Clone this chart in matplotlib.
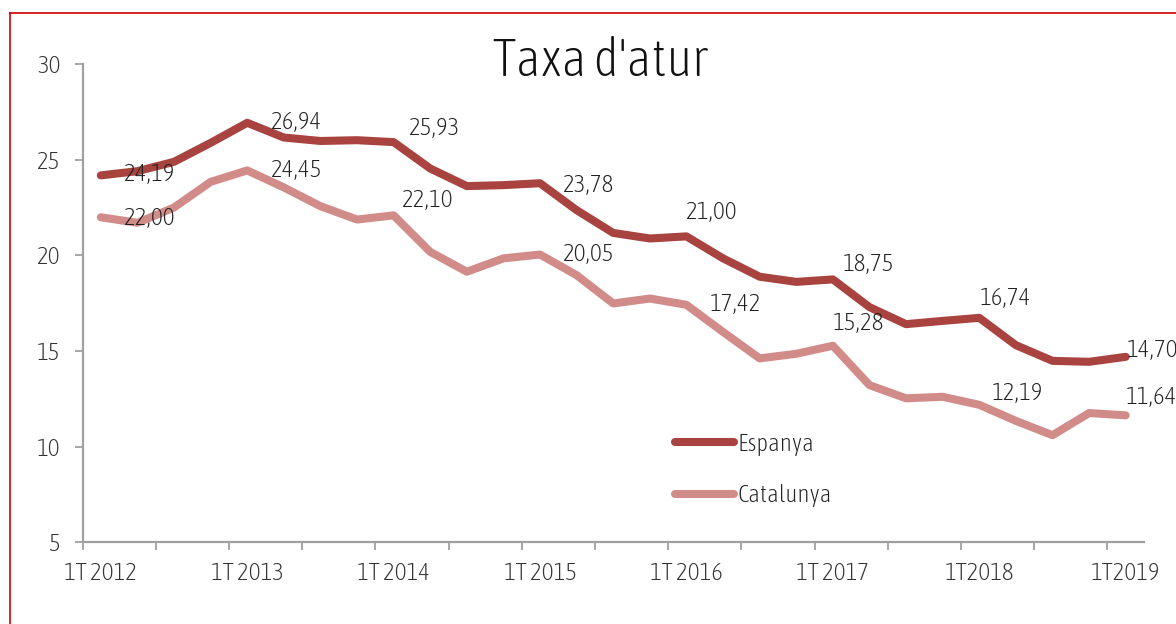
import matplotlib
matplotlib.use("Agg")
import matplotlib.pyplot as plt
from matplotlib.lines import Line2D
from matplotlib.ticker import FixedLocator

plt.rcParams['font.family'] = ['Asap Condensed', 'DejaVu Sans']
plt.rcParams['font.weight'] = 'light'

# ---- data ----
title = "Taxa d'atur"
series_names = ["Espanya", "Catalunya"]
tick_labels = ["1T 2012", "1T 2013", "1T 2014", "1T 2015", "1T 2016", "1T 2017", "1T2018", "1T2019"]
espanya = [24.19, 24.41, 24.90, 25.89, 26.94, 26.17, 25.99, 26.03, 25.93, 24.55,
           23.63, 23.68, 23.78, 22.37, 21.18, 20.89, 21.00, 19.85, 18.89, 18.62,
           18.75, 17.30, 16.41, 16.58, 16.74, 15.31, 14.49, 14.44, 14.70]
catalunya = [22.00, 21.71, 22.51, 23.85, 24.45, 23.56, 22.58, 21.88, 22.10, 20.19,
             19.15, 19.85, 20.05, 18.97, 17.49, 17.75, 17.42, 16.00, 14.62, 14.86,
             15.28, 13.22, 12.53, 12.61, 12.19, 11.35, 10.60, 11.76, 11.64]

# ---- layout / style ----
W, H = 1176, 624
fig = plt.figure(figsize=(W / 100, H / 100), dpi=100)
ax = fig.add_axes([82.5 / W, (H - 542.3) / H, (1144 - 82.5) / W, (542.3 - 64.3) / H])

col_es = '#A8433F'
col_ca = '#D18C8A'
lw = 5.8
x = list(range(len(espanya)))
ax.plot(x, espanya, color=col_es, lw=lw, solid_capstyle='round', solid_joinstyle='round',
        label=series_names[0], zorder=3)
ax.plot(x, catalunya, color=col_ca, lw=lw, solid_capstyle='round', solid_joinstyle='round',
        label=series_names[1], zorder=2)

ax.set_xlim(-0.5, len(espanya) - 0.5)
ax.set_ylim(5, 30)
ax.set_yticks([5, 10, 15, 20, 25, 30])

label_pos = list(range(0, len(espanya), 4))
ax.set_xticks(label_pos)
ax.set_xticklabels(tick_labels)
ax.xaxis.set_minor_locator(FixedLocator([i - 0.5 for i in range(0, len(espanya), 2)]))

axis_col = '#A0A0A0'
for s in ['top', 'right']:
    ax.spines[s].set_visible(False)
for s in ['left', 'bottom']:
    ax.spines[s].set_color(axis_col)
    ax.spines[s].set_linewidth(1.6)

fs = 18
txt_col = '#333333'
ax.tick_params(axis='y', which='major', length=6, width=1.3, color=axis_col, pad=10,
               labelsize=fs, labelcolor=txt_col)
ax.tick_params(axis='x', which='major', length=0, pad=14, labelsize=fs, labelcolor=txt_col)
ax.tick_params(axis='x', which='minor', length=6, width=1.3, color=axis_col)

# data labels at the first quarter of each year
esp_off = [(23, 1), (24, 0), (15, 14), (23, -2), (0, 24), (10, 15), (0, 19), (1, 6)]
cat_off = [(23, -1), (24, 0), (8, 15), (23, 0), (23, 0), (0, 22), (12, 11), (0, 18)]
for k, i in enumerate(label_pos):
    for vals, off in ((espanya, esp_off), (catalunya, cat_off)):
        ax.annotate(f"{vals[i]:.2f}".replace('.', ','), xy=(i, vals[i]),
                    xytext=off[k], textcoords='offset pixels',
                    ha='left', va='center', fontsize=fs, color='#222222', zorder=5)

fig.text(600 / W, 1 - 62 / H, title, ha='center', va='center', fontsize=38, color='#111111')

leg = ax.legend(loc='upper left', bbox_to_anchor=(675 / W, (H - 433) / H),
                bbox_transform=fig.transFigure, frameon=False, fontsize=fs,
                handlelength=2.36, handletextpad=0.12, labelspacing=1.13,
                borderpad=0, borderaxespad=0)
for t in leg.get_texts():
    t.set_color('#222222')

# red frame (top and left edges visible)
red = '#CC0000'
fig.add_artist(Line2D([9.5 / W, 9.5 / W], [0, 1 - 12.5 / H], transform=fig.transFigure,
                      color=red, lw=1.2))
fig.add_artist(Line2D([9.5 / W, 1], [1 - 12.5 / H, 1 - 12.5 / H], transform=fig.transFigure,
                      color=red, lw=1.2))

fig.savefig('out.png', dpi=100)
